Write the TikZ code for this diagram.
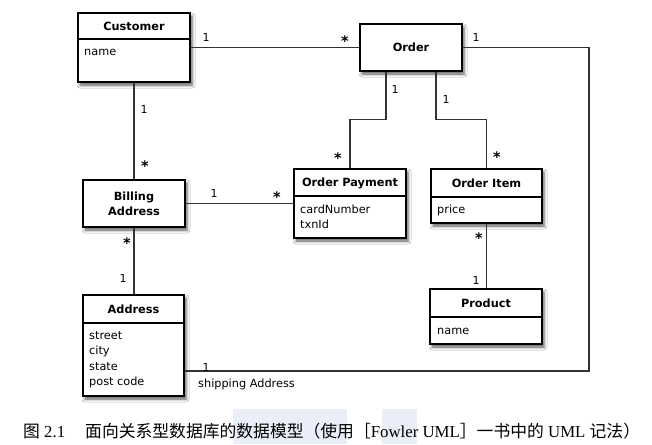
\documentclass[tikz,border=0pt]{standalone}
\usepackage{fontspec}
\setmainfont{DejaVu Sans}
\newfontfamily\cjk{Noto Sans CJK SC}
\newfontfamily\lserif{Liberation Serif}
\usetikzlibrary{shadows.blur}
\definecolor{linec}{HTML}{333333}
\definecolor{wm}{HTML}{E9EEF8}
\begin{document}
\begin{tikzpicture}[x=1pt,y=-1pt,
  cls/.style={draw=black, line width=1.3pt, fill=white, inner sep=0pt,
    blur shadow={shadow xshift=2pt, shadow yshift=-3pt, shadow blur radius=3pt, shadow opacity=65}},
  hdr/.style={draw=black, line width=1.1pt},
  ttl/.style={font=\fontsize{11.3}{15}\selectfont\bfseries, inner sep=0pt},
  attr/.style={font=\fontsize{11.3}{15}\selectfont, inner sep=0pt, anchor=west, text height=8.5pt, text depth=2.5pt},
  conn/.style={draw=linec, line width=1.2pt},
  mult/.style={font=\fontsize{11}{12}\selectfont, inner sep=0pt},
  star/.style={font=\fontsize{14.5}{14}\selectfont\bfseries, inner sep=0pt, anchor=base, yshift=-8pt},
  capf/.style={font=\lserif\fontsize{16.8}{19}\selectfont, inner sep=0pt, anchor=west},
]
\useasboundingbox (0,0) rectangle (652,444);
\fill[white] (0,0) rectangle (652,444);

% class boxes
\node[cls, minimum width=112pt, minimum height=69pt] (cust) at (134,47.5) {};
\node[cls, minimum width=102pt, minimum height=47pt] (order) at (411,47.5) {};
\node[cls, minimum width=112pt, minimum height=69pt] (op) at (350,203.5) {};
\node[cls, minimum width=111pt, minimum height=54pt] (oi) at (486.5,196) {};
\node[cls, minimum width=102pt, minimum height=47pt] (bill) at (134,203.5) {};
\node[cls, minimum width=101pt, minimum height=101pt] (addr) at (133.5,345.5) {};
\node[cls, minimum width=112pt, minimum height=55pt] (prod) at (486,316.5) {};

% connectors
\coordinate (rc) at (589,371);
\draw[conn] (order.west) -- (order.west -| cust.east);
\draw[conn] (cust.south) -- (bill.north);
\draw[conn] (bill.east) -- (bill.east -| op.west);
\draw[conn] (bill.south) -- (bill.south |- addr.north);
\draw[conn] ([xshift=-25pt]order.south) -- ++(0,48) -| (op.north);
\draw[conn] ([xshift=25pt]order.south) -- ++(0,48) -| (oi.north);
\draw[conn] (order.east) -| (rc) -- (rc -| addr.east);
\draw[conn] (oi.south) -- (oi.south |- prod.north);

% header lines
\draw[hdr] (cust.west |- 0,39) -- (cust.east |- 0,39);
\draw[hdr] (op.west |- 0,196) -- (op.east |- 0,196);
\draw[hdr] (oi.west |- 0,197) -- (oi.east |- 0,197);
\draw[hdr] (addr.west |- 0,323) -- (addr.east |- 0,323);
\draw[hdr] (prod.west |- 0,317) -- (prod.east |- 0,317);

% titles and attributes
\node[ttl] (custT) at (134,26) {Customer};
\node[attr] (custA) at (84,53) {name};
\node[ttl] (orderT) at (411,47) {Order};
\node[ttl] (opT) at (350,183) {Order Payment};
\node[attr] (opA1) at (300,210) {cardNumber};
\node[attr] (opA2) at (300,225.5) {txnId};
\node[ttl] (oiT) at (486.5,183) {Order Item};
\node[attr] (oiA) at (437,210) {price};
\node[ttl, align=center] (billT) at (134,204) {Billing\\Address};
\node[ttl] (addrT) at (133.5,309) {Address};
\node[attr] (addrA1) at (89,336) {street};
\node[attr] (addrA2) at (89,351.5) {city};
\node[attr] (addrA3) at (89,367) {state};
\node[attr] (addrA4) at (89,382.5) {post code};
\node[ttl] (prodT) at (486,303) {Product};
\node[attr] (prodA) at (437,331) {name};

% multiplicities
\node[mult] (m1) at (206,37) {1};
\node[star] (s1) at (345,39) {*};
\node[mult] (m2) at (144,109) {1};
\node[star] (s2) at (145,163) {*};
\node[mult] (m3) at (214,193) {1};
\node[star] (s3) at (277,194) {*};
\node[star] (s4) at (127,240) {*};
\node[mult] (m4) at (123,278) {1};
\node[mult] (m5) at (395,89) {1};
\node[star] (s5) at (338,155) {*};
\node[mult] (m6) at (446,99) {1};
\node[star] (s6) at (497,154) {*};
\node[mult] (m7) at (476,37) {1};
\node[mult] (m8) at (206,367) {1};
\node[attr] (ship) at (198,384) {shipping Address};
\node[star] (s7) at (479,235) {*};
\node[mult] (m9) at (476,280) {1};

% caption
\fill[wm] (233,409) rectangle (347,444);
\fill[wm] (382,409) rectangle (417,444);
\node[capf] (cap1) at (23,431) {{\cjk 图} 2.1};
\node[capf] (cap2) at (85,431) {{\cjk 面向关系型数据库的数据模型（使用［}Fowler UML{\cjk ］一书中的} UML {\cjk 记法）}};
\end{tikzpicture}
\end{document}
